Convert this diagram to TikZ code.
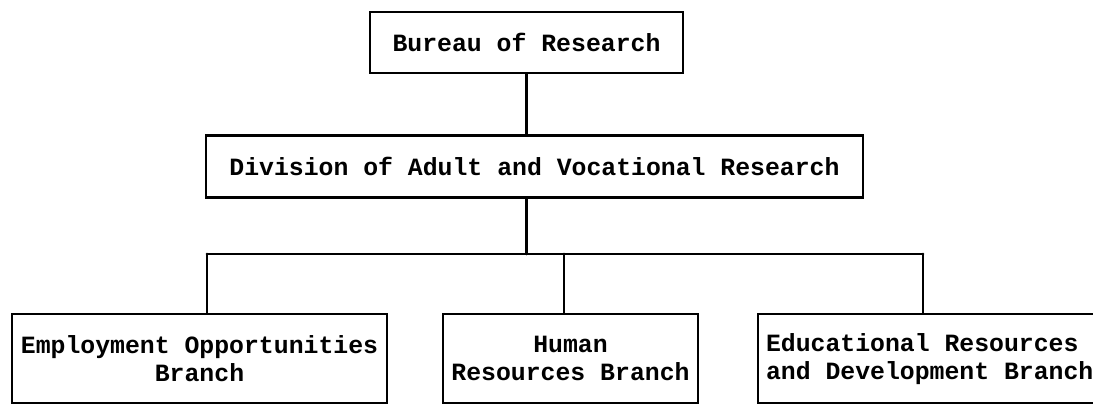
\documentclass[tikz,border=0pt]{standalone}
\usepackage{fontspec}
\setmonofont{Liberation Mono}
\usetikzlibrary{positioning}

\begin{document}
\begin{tikzpicture}[x=1pt, y=1pt,
  node distance=60pt,
  office/.style={draw, line width=2.4pt, font=\ttfamily\bfseries\fontsize{24.8}{28}\selectfont, align=center, inner sep=0pt},
  link/.style={line width=2.8pt, line cap=round}]
  \clip (0,0) rectangle (1093,404);

  \node[office, minimum width=313pt, minimum height=61pt] (bureau) at (526.5,361.5) {Bureau of Research};
  \node[office, minimum width=657pt, minimum height=62pt, below=60pt of bureau, xshift=8pt] (division) {Division of Adult and Vocational Research};

  \node[office, minimum width=375pt, minimum height=89pt, anchor=north] (employ) at (199.5,91) {Employment Opportunities\\Branch};
  \node[office, minimum width=255pt, minimum height=89pt, anchor=north] (human) at (570.5,91) {Human\\Resources Branch};
  \node[office, minimum width=343pt, minimum height=89pt, anchor=north west, align=left] (educ) at (757,91) {Educational Resources\\and Development Branch};

  \coordinate (busL) at (207,150);
  \coordinate (busM) at (564,150);
  \coordinate (busR) at (923,150);

  \draw[link] (bureau.south) -- (bureau.south |- division.north);
  \draw[link] (division.south -| bureau.south) -- (bureau.south |- busL);
  \draw[link] (busL) -- (busR);
  \draw[link] (busL) -- (busL |- employ.north); \draw[link] (busM) -- (busM |- human.north); \draw[link] (busR) -- (busR |- educ.north);
\end{tikzpicture}
\end{document}
